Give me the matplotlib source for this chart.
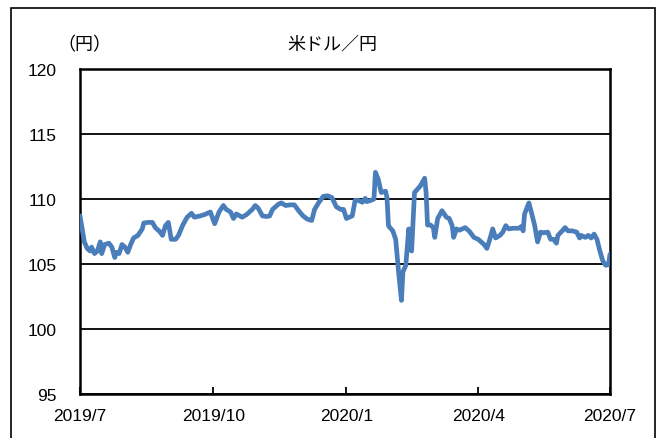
import matplotlib
matplotlib.use("Agg")
import pandas as pd
import matplotlib.pyplot as plt
from matplotlib.patches import Rectangle

# USD/JPY
dates = ['2019-07-01', '2019-07-04', '2019-07-06', '2019-07-08', '2019-07-09', '2019-07-11',
         '2019-07-13', '2019-07-15', '2019-07-16', '2019-07-18', '2019-07-21', '2019-07-23',
         '2019-07-25', '2019-07-26', '2019-07-28', '2019-07-30', '2019-08-01', '2019-08-03',
         '2019-08-05', '2019-08-07', '2019-08-10', '2019-08-13', '2019-08-14', '2019-08-17',
         '2019-08-20', '2019-08-22', '2019-08-25', '2019-08-27', '2019-08-29', '2019-08-31',
         '2019-09-02', '2019-09-05', '2019-09-07', '2019-09-10', '2019-09-13', '2019-09-16',
         '2019-09-18', '2019-09-22', '2019-09-25', '2019-09-29', '2019-10-02', '2019-10-05',
         '2019-10-08', '2019-10-10', '2019-10-13', '2019-10-15', '2019-10-17', '2019-10-21',
         '2019-10-24', '2019-10-28', '2019-10-30', '2019-11-01', '2019-11-04', '2019-11-07',
         '2019-11-09', '2019-11-11', '2019-11-15', '2019-11-17', '2019-11-20', '2019-11-23',
         '2019-11-26', '2019-11-29', '2019-12-02', '2019-12-05', '2019-12-08', '2019-12-10',
         '2019-12-13', '2019-12-16', '2019-12-19', '2019-12-22', '2019-12-25', '2019-12-28',
         '2019-12-30', '2020-01-01', '2020-01-03', '2020-01-05', '2020-01-07', '2020-01-09',
         '2020-01-12', '2020-01-14', '2020-01-15', '2020-01-18', '2020-01-20', '2020-01-21',
         '2020-01-23', '2020-01-25', '2020-01-28', '2020-01-29', '2020-01-30', '2020-01-31',
         '2020-02-02', '2020-02-04', '2020-02-06', '2020-02-08', '2020-02-09', '2020-02-11',
         '2020-02-13', '2020-02-14', '2020-02-15', '2020-02-17', '2020-02-21', '2020-02-24',
         '2020-02-25', '2020-02-26', '2020-02-28', '2020-03-01', '2020-03-02', '2020-03-04',
         '2020-03-07', '2020-03-10', '2020-03-12', '2020-03-14', '2020-03-15', '2020-03-17',
         '2020-03-19', '2020-03-23', '2020-03-26', '2020-03-29', '2020-04-01', '2020-04-05',
         '2020-04-07', '2020-04-09', '2020-04-11', '2020-04-13', '2020-04-16', '2020-04-18',
         '2020-04-20', '2020-04-22', '2020-04-25', '2020-04-29', '2020-05-01', '2020-05-02',
         '2020-05-03', '2020-05-06', '2020-05-08', '2020-05-10', '2020-05-12', '2020-05-14',
         '2020-05-16', '2020-05-19', '2020-05-21', '2020-05-23', '2020-05-25', '2020-05-26',
         '2020-05-29', '2020-05-31', '2020-06-02', '2020-06-05', '2020-06-08', '2020-06-10',
         '2020-06-11', '2020-06-14', '2020-06-16', '2020-06-18', '2020-06-20', '2020-06-22',
         '2020-06-24', '2020-06-26', '2020-06-28', '2020-06-30', '2020-07-01']
usdjpy = [108.7, 106.7, 106.2, 106.0, 106.3, 105.8,
          106.0, 106.7, 105.8, 106.5, 106.6, 106.3,
          105.5, 105.9, 105.8, 106.5, 106.3, 105.9,
          106.5, 107.0, 107.2, 107.7, 108.15, 108.2,
          108.2, 107.8, 107.5, 107.2, 107.95, 108.2,
          106.9, 106.9, 107.2, 108.0, 108.6, 108.9,
          108.6, 108.7, 108.8, 109.0, 108.1, 109.0,
          109.5, 109.2, 109.0, 108.5, 108.85, 108.6,
          108.8, 109.2, 109.5, 109.3, 108.7, 108.65,
          108.7, 109.2, 109.6, 109.7, 109.5, 109.55,
          109.55, 109.1, 108.7, 108.45, 108.35, 109.2,
          109.75, 110.2, 110.25, 110.1, 109.4, 109.2,
          109.2, 108.5, 108.6, 108.7, 109.9, 109.9,
          109.75, 110.05, 109.8, 109.9, 110.0, 112.05,
          111.5, 110.5, 110.6, 110.1, 107.95, 107.8,
          107.55, 106.9, 104.4, 102.2, 104.4, 104.9,
          107.7, 106.15, 106.0, 110.5, 111.0, 111.6,
          110.5, 108.0, 108.0, 107.8, 107.05, 108.5,
          109.1, 108.6, 108.5, 107.95, 107.05, 107.7,
          107.6, 107.8, 107.5, 107.05, 106.9, 106.5,
          106.2, 106.9, 107.7, 107.0, 107.2, 107.45,
          107.95, 107.7, 107.75, 107.75, 107.9, 107.55,
          108.85, 109.7, 108.85, 107.95, 106.7, 107.45,
          107.4, 107.45, 106.9, 106.9, 106.6, 107.2,
          107.55, 107.8, 107.55, 107.55, 107.45, 107.0,
          107.2, 107.05, 107.2, 107.0, 107.3, 106.9,
          106.0, 105.25, 104.9, 104.95, 105.75]

tick_dates = ['2019-07-01', '2019-10-01', '2020-01-01', '2020-04-01', '2020-07-01']
tick_labels = ['2019/7', '2019/10', '2020/1', '2020/4', '2020/7']
y_ticks = [95, 100, 105, 110, 115, 120]

jp_font = ['Noto Sans CJK JP', 'DejaVu Sans']
num_font = ['Liberation Sans Narrow', 'Liberation Sans', 'DejaVu Sans']

x = pd.to_datetime(dates)

fig = plt.figure(figsize=(6.67, 4.39), dpi=100)
ax = fig.add_axes([80 / 667, 44 / 439, 530 / 667, 325 / 439])

# outer chart frame
fig.patches.append(Rectangle((11 / 667, -0.05), 644 / 667, (439 - 9) / 439 + 0.05,
                             transform=fig.transFigure, fill=False,
                             edgecolor='black', linewidth=1.2))

ax.plot(x, usdjpy, color='#4a7ebb', linewidth=3.4, solid_joinstyle='round',
        solid_capstyle='round', zorder=3)

ax.set_xlim(pd.Timestamp('2019-07-01'), pd.Timestamp('2020-07-01'))
ax.set_ylim(95, 120)
ax.set_yticks(y_ticks)
ax.set_xticks(pd.to_datetime(tick_dates))
ax.set_xticklabels(tick_labels, family=num_font, fontsize=12.5)
ax.set_yticklabels([str(v) for v in y_ticks], family=num_font, fontsize=12.5)
ax.yaxis.grid(True, color='black', linewidth=1.3)
ax.set_axisbelow(True)

ax.tick_params(axis='y', length=0, pad=17)
ax.tick_params(axis='x', direction='in', length=5, width=1.3, pad=10)
for s in ax.spines.values():
    s.set_linewidth(1.8)

fig.text(332 / 667, 1 - 44 / 439, '米ドル／円', family=jp_font, fontsize=13,
         ha='center', va='center')
fig.text(84 / 667, 1 - 45 / 439, '（円）', family=jp_font, fontsize=13,
         ha='center', va='center')

fig.savefig('out.png', dpi=100)
